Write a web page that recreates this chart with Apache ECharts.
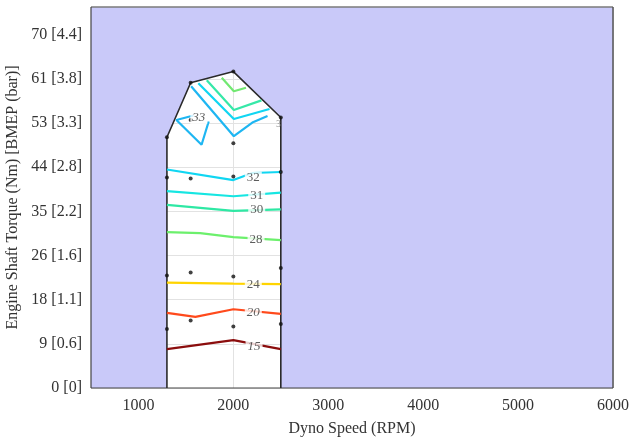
<!DOCTYPE html>
<html>
<head>
<meta charset="utf-8">
<script src="https://cdn.jsdelivr.net/npm/echarts@6/dist/echarts.min.js"></script>
<style>html,body{margin:0;padding:0;background:#fff;}#c{width:629px;height:437px;}</style>
</head>
<body>
<div id="c"></div>
<script>
// ---- axes ----
const xMin = 500, xMax = 6000;
const xTicks = [1000, 2000, 3000, 4000, 5000, 6000];
const yMin = 0, yMax = 75.5, yStep = 8.75;
const yTickLabels = ['0 [0]', '9 [0.6]', '18 [1.1]', '26 [1.6]', '35 [2.2]', '44 [2.8]', '53 [3.3]', '61 [3.8]', '70 [4.4]'];

// ---- operating envelope (RPM, Nm) ----
const envRpm = [1300, 1300, 1550, 2000, 2500, 2500];
const envTorque = [0, 49.7, 60.5, 62.7, 53.6, 0];

// ---- measured points ----
const ptRpm = [1300, 1550, 2000, 2500, 1550, 2000, 1300, 1550, 2000, 2500, 1300, 1550, 2000, 2500, 1300, 1550, 2000, 2500];
const ptTorque = [49.7, 60.5, 62.7, 53.6, 53.1, 48.5, 41.7, 41.5, 41.9, 42.8, 22.3, 22.9, 22.1, 23.8, 11.7, 13.4, 12.2, 12.7];

// ---- contour lines [RPM, Nm] ----
const c15 = [[1300, 7.7], [2000, 9.5], [2500, 7.7]];
const c20 = [[1300, 14.9], [1600, 14.1], [2000, 15.6], [2500, 14.7]];
const c24 = [[1300, 20.9], [2000, 20.7], [2500, 20.6]];
const c28 = [[1300, 30.9], [1650, 30.7], [2000, 29.9], [2500, 29.3]];
const c30 = [[1300, 36.3], [2000, 35.1], [2500, 35.4]];
const c31 = [[1300, 39.0], [2000, 38.0], [2500, 38.7]];
const c32 = [[1300, 43.3], [2000, 41.2], [2200, 42.6], [2500, 42.8]];
const c33loop = [[1580, 54.0], [1400, 53.1], [1665, 48.2], [1740, 52.8]];
const cTopBlue = [[1555, 59.8], [2005, 49.9], [2200, 52.6], [2360, 53.9]];
const cTopCyan = [[1631, 60.4], [2005, 53.3], [2381, 55.3]];
const cTopTeal = [[1720, 61.0], [2005, 55.1], [2296, 57.0]];
const cTopGreen = [[1878, 61.5], [2005, 58.8], [2133, 59.5]];

// ---- contour labels [RPM, Nm, text, italic] ----
const contourLabels = [
  [2218, 8.3, '15', true],
  [2210, 15.0, '20', true],
  [2210, 20.4, '24', false],
  [2239, 29.5, '28', false],
  [2246, 35.3, '30', false],
  [2246, 38.2, '31', false],
  [2210, 41.6, '32', false],
  [1636, 53.6, '33', true]
];

const serif = 'Liberation Serif';
const lineDefs = [
  [c15, '#8b0d0d'], [c20, '#ff4a1c'], [c24, '#ffd400'], [c28, '#6cf06c'],
  [c30, '#2ee8a4'], [c31, '#16e6e2'], [c32, '#10d6f2'], [c33loop, '#1eb6f2'],
  [cTopBlue, '#1eb6f2'], [cTopCyan, '#10d6f2'], [cTopTeal, '#36e8a8'], [cTopGreen, '#72e872']
];

const series = [];
// x grid lines (below the lavender patch)
series.push({
  type: 'line', data: [], z: 1, silent: true,
  markLine: { silent: true, z: 1, zlevel: 0, symbol: 'none', label: { show: false },
    lineStyle: { color: '#e2e2e2', width: 1, type: 'solid' },
    data: xTicks.map(v => ({ xAxis: v })) }
});
// lavender patch outside the envelope + frame
series.push({
  type: 'custom', z: 2, silent: true, data: [0],
  renderItem: function (params, api) {
    const pts = [[xMin, yMin]];
    for (let i = 0; i < envRpm.length; i++) pts.push([envRpm[i], envTorque[i]]);
    pts.push([xMax, yMin], [xMax, yMax], [xMin, yMax]);
    const p = pts.map(q => api.coord(q));
    const bl = api.coord([xMin, yMin]), br = api.coord([xMax, yMin]);
    const tl = api.coord([xMin, yMax]), tr = api.coord([xMax, yMax]);
    return { type: 'group', children: [
      { type: 'polygon', shape: { points: p }, style: { fill: '#c9c9f9', stroke: null } },
      { type: 'line', shape: { x1: tl[0], y1: tl[1], x2: tr[0], y2: tr[1] }, style: { stroke: '#7a7a7a', lineWidth: 1.5 } },
      { type: 'line', shape: { x1: tr[0], y1: tr[1], x2: br[0], y2: br[1] }, style: { stroke: '#555', lineWidth: 1.5 } },
      { type: 'line', shape: { x1: tl[0], y1: tl[1], x2: bl[0], y2: bl[1] }, style: { stroke: '#444', lineWidth: 1.2 } },
      { type: 'line', shape: { x1: bl[0], y1: bl[1], x2: br[0], y2: br[1] }, style: { stroke: '#444', lineWidth: 1.2 } }
    ]};
  }
});
// envelope outline
series.push({
  type: 'line', z: 3, silent: true, symbol: 'none',
  data: envRpm.map((r, i) => [r, envTorque[i]]),
  lineStyle: { color: '#2a2a2a', width: 1.6 }
});
// contours
lineDefs.forEach(d => {
  series.push({ type: 'line', z: 4, silent: true, symbol: 'none', data: d[0],
    lineStyle: { color: d[1], width: 2.2 } });
});
// points
series.push({
  type: 'scatter', z: 5, silent: true, symbolSize: 4,
  itemStyle: { color: '#111' },
  data: ptRpm.map((r, i) => [r, ptTorque[i]])
});
// labels
series.push({
  type: 'scatter', z: 6, silent: true, symbolSize: 0,
  data: contourLabels.map(l => ({ value: [l[0], l[1], l[2]],
    label: { fontStyle: l[3] ? 'italic' : 'normal' } })),
  label: { show: true, position: 'inside', formatter: p => p.value[2],
    fontFamily: serif, fontSize: 13, color: '#333', backgroundColor: '#fff', padding: [0, 2] }
});
// clipped corner label
series.push({
  type: 'scatter', z: 6, silent: true, symbolSize: 0,
  data: [[2475, 52.2, '3']],
  label: { show: true, position: 'inside', formatter: p => p.value[2],
    fontFamily: serif, fontSize: 10, color: '#777' }
});

const chart = echarts.init(document.getElementById('c'), null, { renderer: 'canvas' });
chart.setOption({
  animation: false,
  backgroundColor: '#fff',
  grid: { left: 91, right: 16, top: 7, bottom: 49, containLabel: false, outerBoundsMode: 'none' },
  xAxis: {
    type: 'value', min: xMin, max: xMax, interval: 500,
    name: 'Dyno Speed (RPM)', nameLocation: 'middle', nameGap: 33,
    nameTextStyle: { fontFamily: serif, fontSize: 16, color: '#333' },
    axisLine: { show: false },
    axisTick: { show: true, inside: true, length: 4, customValues: xTicks, lineStyle: { color: '#555' } },
    axisLabel: { customValues: xTicks, margin: 10, fontFamily: serif, fontSize: 16, color: '#333',
      hideOverlap: false, formatter: v => String(v) },
    splitLine: { show: false }
  },
  yAxis: {
    type: 'value', min: yMin, max: yMax, interval: yStep,
    name: 'Engine Shaft Torque (Nm) [BMEP (bar)]', nameLocation: 'middle', nameGap: 68,
    nameTextStyle: { fontFamily: serif, fontSize: 16, color: '#333' },
    axisLine: { show: false },
    axisTick: { show: false },
    axisLabel: { margin: 9, fontFamily: serif, fontSize: 16, color: '#333', showMaxLabel: false,
      formatter: function (v) {
        const i = Math.round(v / yStep);
        return (Math.abs(v - i * yStep) < 1e-6 && yTickLabels[i] !== undefined) ? yTickLabels[i] : '';
      } },
    splitLine: { show: true, lineStyle: { color: '#e2e2e2', width: 1 } }
  },
  series: series
});
</script>
</body>
</html>
